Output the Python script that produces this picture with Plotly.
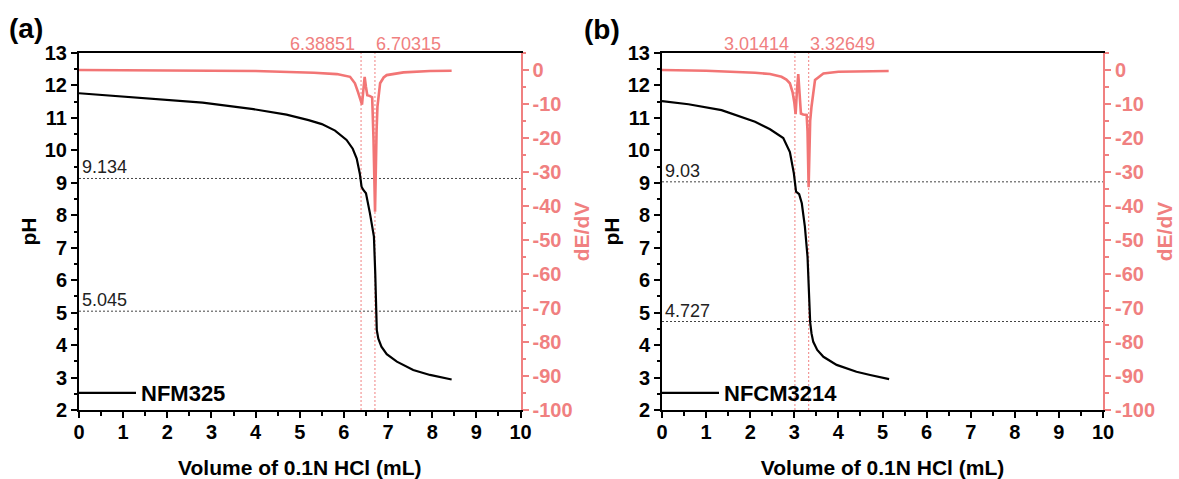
import plotly.graph_objects as go

# ---------------- data ----------------
vol_a = [0, 1.3, 2.8, 3.95, 4.7, 5.2, 5.5, 5.8, 6.06, 6.2, 6.29, 6.36, 6.40, 6.44, 6.50,
         6.59, 6.68, 6.71, 6.73, 6.745, 6.78, 6.85, 6.97, 7.2, 7.57, 7.95, 8.44]
ph_a = [11.76, 11.63, 11.47, 11.27, 11.10, 10.93, 10.81, 10.61, 10.32, 10.05, 9.75, 9.29,
        8.88, 8.78, 8.68, 8.06, 7.34, 6.21, 5.18, 4.46, 4.20, 3.95, 3.72, 3.49, 3.23, 3.08, 2.94]

dvol_a = [0, 2, 4, 5.32, 5.84, 6.14, 6.25, 6.32, 6.37, 6.41, 6.44, 6.47, 6.50, 6.53, 6.58,
          6.64, 6.67, 6.705, 6.74, 6.76, 6.82, 6.9, 6.97, 7.35, 7.95, 8.44]
dedv_a = [0, -0.1, -0.3, -0.8, -1.2, -2.0, -3.9, -6.5, -8.5, -10.2, -6.0, -2.0, -5.0, -7.4,
          -7.6, -8.0, -20.0, -41.7, -18.0, -10.8, -3.9, -2.2, -1.5, -0.7, -0.3, -0.2]

vol_b = [0, 0.6, 1.35, 2.11, 2.45, 2.75, 2.9, 2.99, 3.04, 3.11, 3.17, 3.24, 3.30, 3.34, 3.36,
         3.39, 3.43, 3.52, 3.66, 3.96, 4.41, 4.72, 5.15]
ph_b = [11.52, 11.42, 11.24, 10.88, 10.65, 10.38, 9.95, 9.29, 8.73, 8.65, 8.37, 7.65, 6.72,
        5.59, 4.70, 4.36, 4.10, 3.85, 3.64, 3.39, 3.18, 3.08, 2.95]

dvol_b = [0, 1, 2.11, 2.45, 2.71, 2.82, 2.9, 2.96, 3.0, 3.03, 3.06, 3.09, 3.12, 3.15, 3.2,
          3.28, 3.30, 3.325, 3.36, 3.39, 3.47, 3.66, 4.0, 4.72, 5.14]
dedv_b = [0, -0.2, -0.8, -1.2, -2.0, -2.8, -3.9, -6.5, -9.5, -13.0, -6.0, -1.2, -7.0, -12.8,
          -13.1, -13.2, -18.0, -34.5, -15.0, -10.8, -2.9, -1.0, -0.5, -0.3, -0.3]

ep_a = [6.38851, 6.70315]
ep_b = [3.01414, 3.32649]
lvl_a = [9.134, 5.045]
lvl_b = [9.03, 4.727]
lvl_a_txt = ["9.134", "5.045"]
lvl_b_txt = ["9.03", "4.727"]
ep_a_txt = ["6.38851", "6.70315"]
ep_b_txt = ["3.01414", "3.32649"]
name_a = "NFM325"
name_b = "NFCM3214"
panel_txt = ["(a)", "(b)"]
dedv_ticks = [-100, -90, -80, -70, -60, -50, -40, -30, -20, -10, 0]
dedv_ticklabels = ["-100", "-90", "-80", "-70", "-60", "-50", "-40", "-30", "-20", "-10", "0"]

# ---------------- style ----------------
W, H = 1179, 479
PINK = "#F08080"
PINK_LINE = "#F27575"
FONT = "Liberation Sans"

fig = go.Figure()
fig.add_trace(go.Scatter(x=vol_a, y=ph_a, mode="lines", name=name_a,
                         line=dict(color="black", width=2.2), xaxis="x", yaxis="y",
                         legend="legend"))
fig.add_trace(go.Scatter(x=dvol_a, y=dedv_a, mode="lines", showlegend=False,
                         line=dict(color=PINK_LINE, width=2.6), xaxis="x", yaxis="y2"))
fig.add_trace(go.Scatter(x=vol_b, y=ph_b, mode="lines", name=name_b,
                         line=dict(color="black", width=2.2), xaxis="x2", yaxis="y3",
                         legend="legend2"))
fig.add_trace(go.Scatter(x=dvol_b, y=dedv_b, mode="lines", showlegend=False,
                         line=dict(color=PINK_LINE, width=2.6), xaxis="x2", yaxis="y4"))

tickfont = dict(family=FONT, size=20, color="black", weight="bold")
titlefont = dict(family=FONT, size=21, color="black", weight="bold")
ydom = [69 / H, 426 / H]
xdom_a = [79 / W, 520.5 / W]
xdom_b = [662 / W, 1103 / W]


def xax(dom, anchor):
    return dict(domain=dom, anchor=anchor, range=[0, 10], dtick=1, tick0=0,
                automargin=False,
                showgrid=False, zeroline=False, showline=True, linecolor="black",
                linewidth=2, mirror=True, ticks="outside", ticklen=6, tickwidth=2,
                tickcolor="black", tickfont=tickfont, ticklabelstandoff=-3,
                minor=dict(dtick=0.5, ticks="outside", ticklen=3.5, tickwidth=1.5,
                           tickcolor="black"),
                title=dict(text="Volume of 0.1N HCl (mL)", font=titlefont, standoff=19))


def yleft(anchor):
    return dict(domain=ydom, anchor=anchor, range=[2, 13], dtick=1, tick0=2,
                automargin=False,
                showgrid=False, zeroline=False, showline=True, linecolor="black",
                linewidth=2, ticks="outside", ticklen=6, tickwidth=2, tickcolor="black",
                tickfont=tickfont,
                minor=dict(dtick=0.5, ticks="outside", ticklen=3.5, tickwidth=1.5,
                           tickcolor="black"),
                title=dict(text="pH", font=titlefont, standoff=2))


def yright(anchor, over):
    return dict(domain=ydom, anchor=anchor, overlaying=over, side="right",
                automargin=False,
                range=[-100, 5], tickmode="array", tickvals=dedv_ticks,
                ticktext=dedv_ticklabels, showgrid=False, zeroline=False,
                showline=True, linecolor=PINK, linewidth=2, ticks="outside", ticklen=6,
                tickwidth=2, tickcolor=PINK,
                tickfont=dict(family=FONT, size=20, color=PINK, weight="bold"),
                minor=dict(dtick=5, tick0=0, ticks="outside", ticklen=3.5, tickwidth=1.5,
                           tickcolor=PINK),
                title=dict(text="dE/dV", font=dict(family=FONT, size=21, color=PINK,
                                                   weight="bold"), standoff=3))


shapes = []
annotations = []
for xr, yr, lvls, lt, eps, et in [("x", "y", lvl_a, lvl_a_txt, ep_a, ep_a_txt),
                                   ("x2", "y3", lvl_b, lvl_b_txt, ep_b, ep_b_txt)]:
    for v, t in zip(lvls, lt):
        shapes.append(dict(type="line", xref=xr + " domain", yref=yr, x0=0, x1=1, y0=v, y1=v,
                           line=dict(color="#444", width=1, dash="2px,2px"), layer="below"))
        annotations.append(dict(x=0, y=v, xref=xr, yref=yr, text=t, showarrow=False,
                                xanchor="left", yanchor="bottom", xshift=1, yshift=-1,
                                font=dict(family=FONT, size=18, color="#222")))
    for i, (v, t) in enumerate(zip(eps, et)):
        shapes.append(dict(type="line", xref=xr, yref=yr + " domain", x0=v, x1=v, y0=0, y1=1,
                           line=dict(color=PINK, width=1, dash="2px,2px"), layer="below"))
        annotations.append(dict(x=v, y=1 - 44 / H, xref=xr, yref="paper", text=t,
                                showarrow=False, xanchor="right" if i == 0 else "left",
                                yanchor="middle", xshift=-4 if i == 0 else -1,
                                font=dict(family=FONT, size=18, color=PINK)))

annotations.append(dict(x=26 / W, y=1 - 29 / H, xref="paper", yref="paper", text=panel_txt[0],
                        showarrow=False, xanchor="center", yanchor="middle",
                        font=dict(family=FONT, size=28, color="black", weight="bold")))
annotations.append(dict(x=602 / W, y=1 - 30 / H, xref="paper", yref="paper", text=panel_txt[1],
                        showarrow=False, xanchor="center", yanchor="middle",
                        font=dict(family=FONT, size=28, color="black", weight="bold")))

legfont = dict(family=FONT, size=22, color="black", weight="bold")
fig.update_layout(
    width=W, height=H,
    margin=dict(l=0, r=0, t=0, b=0, autoexpand=False),
    paper_bgcolor="white", plot_bgcolor="white",
    xaxis=xax(xdom_a, "y"),
    yaxis=yleft("x"),
    yaxis2=yright("x", "y"),
    xaxis2=xax(xdom_b, "y3"),
    yaxis3=yleft("x2"),
    yaxis4=yright("x2", "y3"),
    shapes=shapes,
    annotations=annotations,
    legend=dict(x=(79 - 6) / W, y=1 - 393 / H, xanchor="left", yanchor="middle",
                bgcolor="rgba(0,0,0,0)", font=legfont, itemwidth=58),
    legend2=dict(x=(662 - 6) / W, y=1 - 393 / H, xanchor="left", yanchor="middle",
                 bgcolor="rgba(0,0,0,0)", font=legfont, itemwidth=58),
)

fig.write_html("out.html", config={"displayModeBar": False},
               post_script="document.body.style.margin='0';document.body.style.padding='0';"
                           "document.body.style.overflow='hidden';")
